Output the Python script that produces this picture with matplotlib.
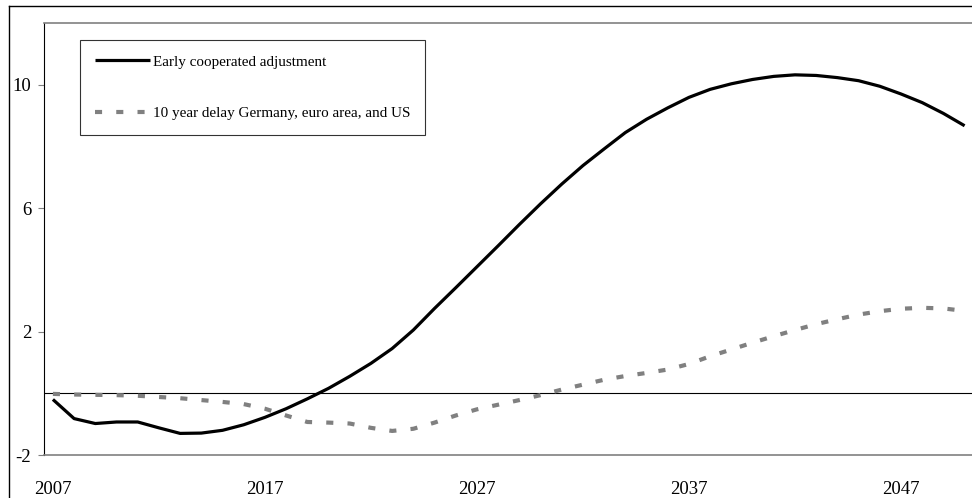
import numpy as np
import matplotlib
matplotlib.use('Agg')
import matplotlib.pyplot as plt
from matplotlib.lines import Line2D

plt.rcParams['font.family'] = ['Liberation Serif', 'DejaVu Serif']
plt.rcParams['axes.unicode_minus'] = False

years = np.arange(2007, 2051)

early = [-0.20, -0.82, -0.98, -0.93, -0.93, -1.12, -1.30, -1.29, -1.20, -1.02,
         -0.78, -0.50, -0.18, 0.16, 0.55, 0.97, 1.45, 2.05, 2.75, 3.42,
         4.10, 4.78, 5.47, 6.14, 6.78, 7.38, 7.92, 8.45, 8.88, 9.25,
         9.59, 9.85, 10.03, 10.17, 10.27, 10.32, 10.30, 10.23, 10.13, 9.95,
         9.70, 9.42, 9.07, 8.67]

delay = [-0.02, -0.04, -0.05, -0.06, -0.08, -0.12, -0.16, -0.22, -0.28, -0.35,
         -0.50, -0.72, -0.93, -0.95, -0.98, -1.12, -1.22, -1.15, -0.95, -0.72,
         -0.52, -0.37, -0.22, -0.06, 0.12, 0.28, 0.44, 0.56, 0.66, 0.77,
         0.95, 1.20, 1.42, 1.64, 1.85, 2.05, 2.24, 2.40, 2.55, 2.66,
         2.74, 2.77, 2.75, 2.67]

xticks = [2007, 2017, 2027, 2037, 2047]
yticks = [-2, 2, 6, 10]

W, H = 972, 498
fig = plt.figure(figsize=(W / 100, H / 100), dpi=100)
ax = fig.add_axes([44 / W, 1 - 455 / H, (W - 44) / W, (455 - 23) / H])

# outer frame (left and top edges only are visible)
fig.add_artist(Line2D([9 / W, 9 / W], [0, 1 - 6 / H], color='black', lw=1.0,
                      transform=fig.transFigure))
fig.add_artist(Line2D([9 / W, 1], [1 - 6 / H, 1 - 6 / H], color='black', lw=1.0,
                      transform=fig.transFigure))

ax.axhline(0, color='black', lw=0.8, zorder=1)

ax.plot(years, early, color='black', lw=2.3, solid_capstyle='butt',
        label='Early cooperated adjustment', zorder=3)
ax.plot(years, delay, color='#808080', lw=3.0, dashes=(1.7, 3.4),
        dash_capstyle='butt', label='10 year delay Germany, euro area, and US', zorder=2)

ax.set_xlim(2006.58, 2007 + (W - 53) / 21.2)
ax.set_ylim(-2, 12)

ax.set_xticks(xticks)
ax.set_xticklabels([str(x) for x in xticks])
ax.set_yticks(yticks)
ax.tick_params(axis='x', length=0, pad=19, labelsize=13.5)
ax.tick_params(axis='y', length=4.3, width=0.8, color='#808080', pad=5,
               labelsize=13.5, direction='out')

ax.spines['left'].set_color('black')
ax.spines['left'].set_linewidth(0.8)
ax.spines['top'].set_color('#808080')
ax.spines['top'].set_linewidth(1.2)
ax.spines['bottom'].set_color('#808080')
ax.spines['bottom'].set_linewidth(1.2)
ax.spines['right'].set_visible(False)

leg = ax.legend(loc='upper left', bbox_to_anchor=(80 / W, 1 - 40 / H),
                bbox_transform=fig.transFigure, frameon=True, fancybox=False,
                fontsize=10.9, handlelength=3.6, handletextpad=0.2,
                labelspacing=2.5, borderpad=1.0, borderaxespad=0)
leg.get_frame().set_edgecolor('black')
leg.get_frame().set_linewidth(0.8)

plt.savefig('out.png', dpi=100)
